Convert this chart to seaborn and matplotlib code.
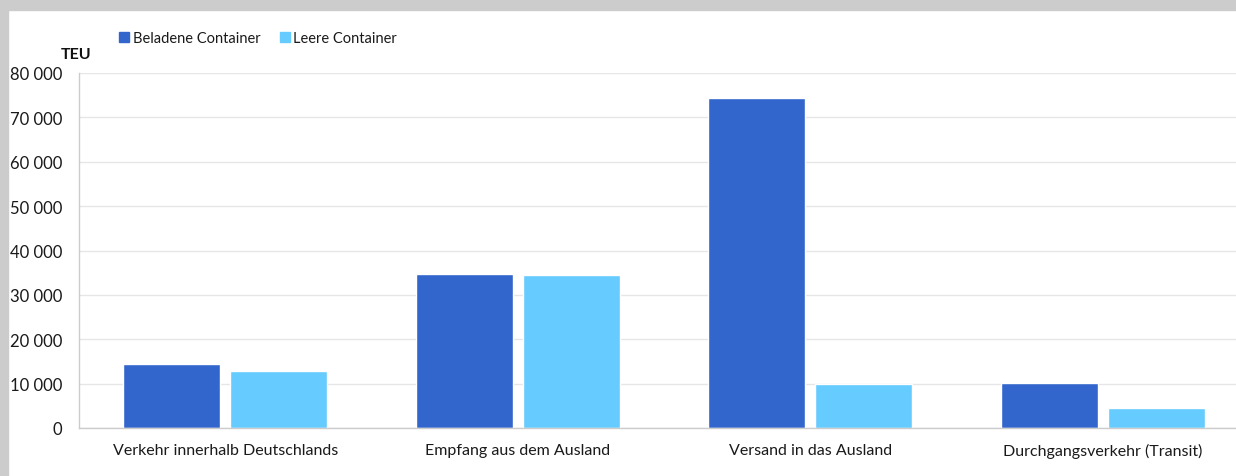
import matplotlib
matplotlib.use("Agg")
import matplotlib.pyplot as plt
import matplotlib.ticker as mticker
from matplotlib.patches import Rectangle
import pandas as pd
import seaborn as sns

# values (TEU)
categories = ["Verkehr innerhalb Deutschlands", "Empfang aus dem Ausland",
              "Versand in das Ausland", "Durchgangsverkehr (Transit)"]
series_names = ["Beladene Container", "Leere Container"]
beladen = [14400, 34600, 74300, 10200]
leer = [12850, 34400, 9900, 4450]
y_ticks = [0, 10000, 20000, 30000, 40000, 50000, 60000, 70000, 80000]

colors = ["#3366cc", "#66ccff"]

df = pd.DataFrame({"Kategorie": categories,
                   series_names[0]: beladen,
                   series_names[1]: leer})
df_long = df.melt(id_vars="Kategorie", var_name="Serie", value_name="TEU")

sns.set_style("white")
plt.rcParams["font.family"] = ["Lato", "DejaVu Sans"]

W, H = 1236, 477
fig = plt.figure(figsize=(W / 100, H / 100), dpi=100)
ax = fig.add_axes([79 / W, 1 - 429 / H, (1249 - 79) / W, (429 - 74) / H])

sns.barplot(data=df_long, x="Kategorie", y="TEU", hue="Serie",
            palette=colors, width=0.73, gap=0.09, saturation=1,
            ax=ax, legend=False)

ax.set_xlim(-0.5, len(categories) - 0.5)
ax.set_ylim(0, 80000)
ax.set_yticks(y_ticks)
ax.yaxis.set_major_formatter(
    mticker.FuncFormatter(lambda v, p: f"{int(v):,}".replace(",", " ")))
ax.set_xlabel("")
ax.set_ylabel("")

ax.grid(axis="y", color="#e6e6e6", lw=1)
ax.set_axisbelow(True)
for s in ["top", "right"]:
    ax.spines[s].set_visible(False)
for s in ["left", "bottom"]:
    ax.spines[s].set_color("#cccccc")
    ax.spines[s].set_linewidth(1)

ax.tick_params(axis="y", length=3, color="#e6e6e6", pad=9,
               labelsize=12, labelcolor="#1a1a1a")
ax.tick_params(axis="x", which="major", length=0, pad=11,
               labelsize=11.5, labelcolor="#1a1a1a")
ax.set_xticks([i + 0.5 for i in range(-1, len(categories) - 1)], minor=True)
ax.tick_params(axis="x", which="minor", length=5, color="#cccccc")

handles = [Rectangle((0, 0), 1, 1, color=c) for c in colors]
fig.legend(handles, series_names, loc="center left",
           bbox_to_anchor=(106 / W, 1 - 39 / H), ncol=2, frameon=False,
           fontsize=10.5, handlelength=0.7, handleheight=0.7,
           handletextpad=0.25, columnspacing=1.3, labelcolor="#1a1a1a")

fig.text(61 / W, 1 - 55 / H, "TEU", fontsize=11.5, fontweight="bold",
         va="center", ha="left", color="#111111")

# grey frame from the page the chart was cut from
fig.patches.append(Rectangle((0, 1 - 11 / H), 1, 11 / H, color="#cccccc",
                             transform=fig.transFigure, zorder=10))
fig.patches.append(Rectangle((0, 0), 8 / W, 1, color="#cccccc",
                             transform=fig.transFigure, zorder=10))

fig.savefig("out.png", dpi=100)
